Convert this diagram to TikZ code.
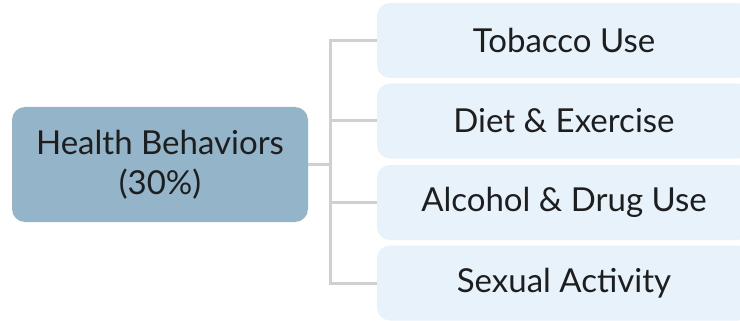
\documentclass[tikz,border=0pt]{standalone}
\usepackage{fontspec}
\setmainfont{Lato}
\definecolor{mainfill}{RGB}{148,180,201}
\definecolor{subfill}{RGB}{232,242,250}
\definecolor{linegray}{RGB}{208,208,208}
\definecolor{txt}{RGB}{30,30,30}
\tikzset{
  mainbox/.style={rectangle, rounded corners=13pt, fill=mainfill, minimum width=296pt, minimum height=115pt, align=center, text=txt, font=\fontsize{33}{40}\selectfont, inner sep=0pt},
  subbox/.style={rectangle, rounded corners=13pt, fill=subfill, minimum width=374pt, minimum height=75pt, text=txt, font=\fontsize{33}{40}\selectfont, inner sep=0pt},
  conn/.style={draw=linegray, line width=3pt}
}
\begin{document}
\begin{tikzpicture}[x=1pt,y=1pt]
\useasboundingbox (0,0) rectangle (740,-321);
\clip (0,0) rectangle (740,-321);
\fill[white] (0,0) rectangle (740,-321);
\node[mainbox] (hb) at (160,-164.5) {Health Behaviors\\(30\%)};
\node[subbox] (t1) at (564,-40.5) {Tobacco Use};
\node[subbox] (t2) at (564,-121) {Diet \& Exercise};
\node[subbox] (t3) at (564,-202.5) {Alcohol \& Drug Use};
\node[subbox] (t4) at (564,-283) {Sexual Activity};
\coordinate (j) at (330,-164.5);
\draw[conn] (hb.east) -- (j);
\draw[conn] (t1.west) -- (t1.west -| j) -- (t4.west -| j) -- (t4.west);
\draw[conn] (t2.west) -- (t2.west -| j);
\draw[conn] (t3.west) -- (t3.west -| j);
\end{tikzpicture}
\end{document}
